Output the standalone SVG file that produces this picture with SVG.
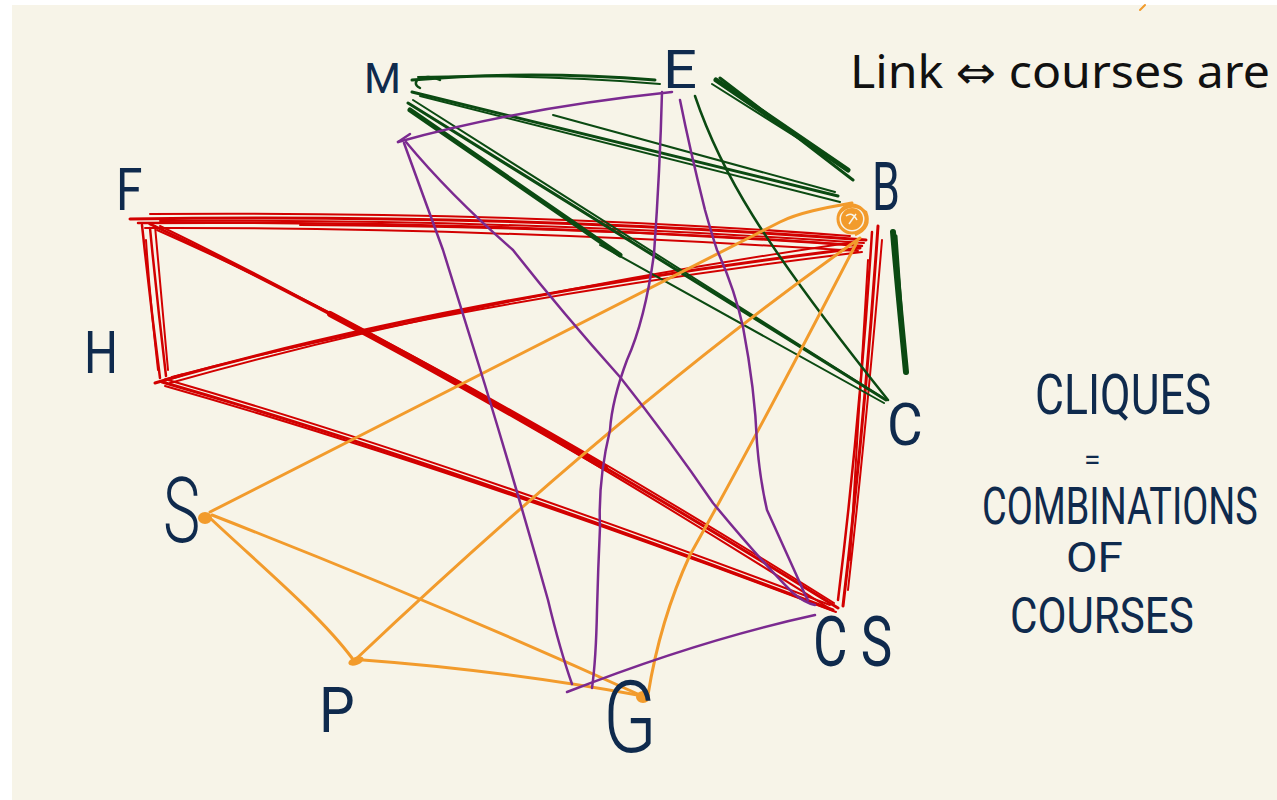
<svg xmlns="http://www.w3.org/2000/svg" width="1277" height="800" viewBox="0 0 1277 800">
  <style>
    .ln { fill: none; stroke-linecap: round; stroke-linejoin: round; }
    .g { stroke: #0b4a12; }
    .r { stroke: #d20000; }
    .o { stroke: #f29b2c; }
    .p { stroke: #7b2a90; }
    .lbl, .note { font-family: Roboto, "Liberation Sans", Arial, sans-serif; font-weight: 400; fill: #0f2a4d; }
    .big { font-weight: 300; }
    .typed { font-family: "Noto Sans", "DejaVu Sans", sans-serif; fill: #111111; }
  </style>

  <!-- page -->
  <rect x="0" y="0" width="1277" height="800" fill="#ffffff"/>
  <rect x="12" y="5" width="1265" height="795" fill="#f7f4e8"/>

  <text class="typed" x="850" y="88" font-size="45" textLength="420" lengthAdjust="spacingAndGlyphs">Link ⇔ courses are</text>
  <path class="ln o" d="M1140 10 L1145 5" stroke-width="2"/>

  <g id="connectors">
    <!-- red clique: F, H, B, CS -->
    <g id="edges-red" class="ln r">
      <!-- F - B -->
      <path d="M130 219 Q500 213 866 240" stroke-width="3"/>
      <path d="M138 223 Q500 220 862 246" stroke-width="2.5"/>
      <path d="M145 228 Q480 227 858 251" stroke-width="2"/>
      <path d="M150 214 Q520 211 850 236" stroke-width="2"/>
      <path d="M300 225 Q600 227 840 244" stroke-width="2"/>
      <path d="M160 221 Q500 218 864 243" stroke-width="2"/>
      <!-- F - H -->
      <path d="M142 225 Q150 300 160 378" stroke-width="2.5"/>
      <path d="M150 228 Q157 300 166 376" stroke-width="2.5"/>
      <path d="M146 240 Q150 300 158 370" stroke-width="2"/>
      <path d="M155 226 Q162 300 168 370" stroke-width="2"/>
      <path d="M155 383 L182 375" stroke-width="3"/>
      <!-- F - CS -->
      <path d="M150 224 Q431 356 838 608" stroke-width="3"/>
      <path d="M157 230 Q431 351 834 603" stroke-width="2"/>
      <path d="M160 226 Q440 362 832 610" stroke-width="2"/>
      <path d="M330 314 Q457 381 605 468" stroke-width="6"/>
      <!-- H - B -->
      <path d="M165 380 Q466 295 860 248" stroke-width="3"/>
      <path d="M172 377 Q466 300 862 252" stroke-width="2"/>
      <path d="M170 383 Q470 298 855 242" stroke-width="2"/>
      <!-- H - CS -->
      <path d="M162 382 Q456 467 833 610" stroke-width="3"/>
      <path d="M168 380 Q456 463 830 605" stroke-width="2"/>
      <path d="M165 386 Q460 470 836 612" stroke-width="2"/>
      <!-- B - CS -->
      <path d="M878 226 Q865 420 843 606" stroke-width="3"/>
      <path d="M872 232 Q860 420 838 600" stroke-width="2.5"/>
      <path d="M882 240 Q866 430 848 590" stroke-width="2"/>
      <path d="M868 260 L850 560" stroke-width="2"/>
    </g>

    <!-- green clique: M, E, B, C -->
    <g id="edges-green" class="ln g">
      <!-- M - E -->
      <path d="M412 80 Q530 70 655 80" stroke-width="3"/>
      <path d="M418 77 Q540 74 660 84" stroke-width="2"/>
      <path d="M420 88 C408 82 424 72 440 80" stroke-width="2.5"/>
      <!-- M - B -->
      <path d="M412 92 L838 196" stroke-width="3"/>
      <path d="M420 96 L840 202" stroke-width="2"/>
      <path d="M553 115 L835 192" stroke-width="2"/>
      <!-- M - C -->
      <path d="M408 103 L886 400" stroke-width="3"/>
      <path d="M413 100 L880 396" stroke-width="2"/>
      <path d="M410 110 L620 255" stroke-width="5"/>
      <path d="M600 245 L884 403" stroke-width="2"/>
      <!-- E - B -->
      <path d="M716 80 L848 170" stroke-width="5"/>
      <path d="M720 78 L853 180" stroke-width="3"/>
      <path d="M712 84 L842 166" stroke-width="2"/>
      <!-- E - C -->
      <path d="M695 96 C720 170 760 240 888 400" stroke-width="2.5"/>
      <!-- B - C -->
      <path d="M893 232 C897 280 902 330 906 372" stroke-width="6"/>
      <path d="M896 236 L905 365" stroke-width="3"/>
    </g>

    <!-- orange clique: B, S, P, G -->
    <g id="edges-orange" class="ln o" stroke-width="3">
      <path d="M852 203 C830 207 800 212 780 222 L210 512"/>
      <path d="M860 238 Q630 400 355 660"/>
      <path d="M857 242 Q760 430 690 555 Q660 620 648 695"/>
      <path d="M210 518 C260 565 320 615 352 658"/>
      <path d="M212 515 Q430 600 640 695"/>
      <path d="M363 660 Q500 670 643 696"/>
    </g>

    <!-- purple clique: M, E, G, CS -->
    <g id="edges-purple" class="ln p" stroke-width="2.5">
      <path d="M398 142 Q520 108 672 92"/>
      <path d="M398 142 L410 134"/>
      <path d="M404 143 Q425 200 443 250 Q468 330 485 385 Q520 500 548 600 Q560 650 572 684"/>
      <path d="M406 142 Q450 195 513 250 Q560 310 620 377 Q670 440 713 503 Q760 560 793 593 Q805 603 815 605"/>
      <path d="M662 92 Q660 170 654 254 Q645 320 627 360 Q612 400 610 430 Q598 480 600 527 Q598 570 597 610 Q596 660 592 688"/>
      <path d="M680 100 Q690 150 705 210 Q712 235 717 250 Q735 290 743 327 Q755 390 757 443 Q760 480 767 510 Q785 550 800 583 Q805 595 808 600"/>
      <path d="M567 692 Q700 640 815 615"/>
    </g>
  </g>

  <g id="node-M"><text class="lbl" x="364" y="93" font-size="42" textLength="37" lengthAdjust="spacingAndGlyphs">M</text></g>
  <g id="node-E"><text class="lbl" x="663" y="88" font-size="53" textLength="34" lengthAdjust="spacingAndGlyphs">E</text></g>
  <g id="node-B">
    <circle cx="852" cy="219" r="11" fill="#f29b2c"/>
    <circle cx="852" cy="219" r="14" fill="none" stroke="#f29b2c" stroke-width="3"/>
    <path d="M839 214 Q850 200 866 212 Q872 228 855 235" fill="none" stroke="#f29b2c" stroke-width="2.5"/>
    <path d="M846 216 Q852 211 857 220 M849 224 L856 214" fill="none" stroke="#f7f4e8" stroke-width="1.5"/>
    <text class="lbl" transform="translate(872 210) scale(0.62 1)" font-size="66" textLength="45" lengthAdjust="spacingAndGlyphs">B</text>
  </g>
  <g id="node-F"><text class="lbl" transform="translate(116 210) scale(0.78 1)" font-size="59" textLength="34" lengthAdjust="spacingAndGlyphs">F</text></g>
  <g id="node-H"><text class="lbl" transform="translate(84 373) scale(0.74 1)" font-size="60" textLength="46" lengthAdjust="spacingAndGlyphs">H</text></g>
  <g id="node-C"><text class="lbl" transform="translate(887 445) scale(0.85 1)" font-size="59" textLength="42" lengthAdjust="spacingAndGlyphs">C</text></g>
  <g id="node-S">
    <ellipse cx="205" cy="518" rx="7" ry="6" fill="#f29b2c"/>
    <text class="lbl big" transform="translate(163 542) scale(0.62 1)" font-size="91" textLength="60" lengthAdjust="spacingAndGlyphs">S</text>
  </g>
  <g id="node-P">
    <ellipse cx="356" cy="661" rx="8" ry="4" fill="#f29b2c" transform="rotate(-20 356 661)"/>
    <text class="lbl" transform="translate(319 732) scale(0.85 1)" font-size="63" textLength="42" lengthAdjust="spacingAndGlyphs">P</text>
  </g>
  <g id="node-G">
    <ellipse cx="643" cy="697" rx="7" ry="6" fill="#f29b2c"/>
    <text class="lbl big" transform="translate(603 752) scale(0.75 1)" font-size="100" textLength="72" lengthAdjust="spacingAndGlyphs">G</text>
  </g>
  <g id="node-CS"><text class="lbl" transform="translate(813 666) scale(0.72 1)" font-size="70" textLength="110" lengthAdjust="spacingAndGlyphs">C S</text></g>

  <g id="note">
    <text class="note" transform="translate(1035 414) scale(0.78 1)" font-size="56" textLength="226" lengthAdjust="spacingAndGlyphs">CLIQUES</text>
    <text class="note" x="1084" y="470" font-size="30">=</text>
    <text class="note" transform="translate(982 524) scale(0.7 1)" font-size="52" textLength="394" lengthAdjust="spacingAndGlyphs">COMBINATIONS</text>
    <text class="note" x="1066" y="572" font-size="42" textLength="57" lengthAdjust="spacingAndGlyphs">OF</text>
    <text class="note" transform="translate(1010 633) scale(0.82 1)" font-size="50" textLength="224" lengthAdjust="spacingAndGlyphs">COURSES</text>
  </g>
</svg>
